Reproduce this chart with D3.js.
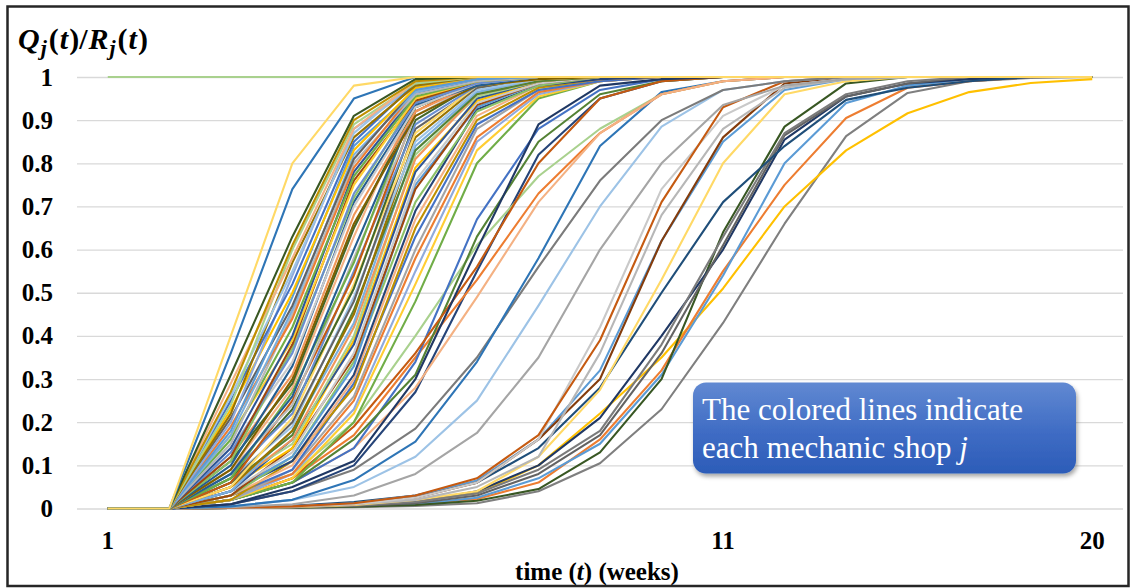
<!DOCTYPE html>
<html>
<head>
<meta charset="utf-8">
<script src="https://cdn.jsdelivr.net/npm/d3@7"></script>
<style>
  body { margin: 0; background: #fff; }
  svg { display: block; }
</style>
</head>
<body>
<svg id="chart" width="1135" height="588"></svg>
<script>
// Weekly periods on the category axis and the labels printed under it
const periods = [1, 2, 3, 4, 5, 6, 7, 8, 9, 10, 11, 12, 13, 14, 15, 16, 17];
const labelPeriods = [1, 11, 17];
const labelTexts = ["1", "11", "20"];

// Vertical axis ticks
const yTickValues = [0, 0.1, 0.2, 0.3, 0.4, 0.5, 0.6, 0.7, 0.8, 0.9, 1];
const yTickLabels = ["0", "0.1", "0.2", "0.3", "0.4", "0.5", "0.6", "0.7", "0.8", "0.9", "1"];

// Q_j(t)/R_j(t) for each mechanic shop j, one value per period
const shopRatios = [
  [1,1,1,1,1,1,1,1,1,1,1,1,1,1,1,1,1],
  // slowest shops
  [0,0,0.001,0.002,0.003,0.006,0.012,0.04,0.105,0.23,0.43,0.66,0.863,0.963,0.99,0.998,1],
  [0,0,0.002,0.004,0.008,0.018,0.035,0.10,0.22,0.35,0.51,0.70,0.83,0.916,0.965,0.986,0.995],
  [0,0,0.001,0.002,0.005,0.01,0.022,0.06,0.16,0.32,0.55,0.75,0.905,0.975,0.99,1,1],
  [0,0,0.001,0.002,0.005,0.01,0.025,0.07,0.15,0.31,0.54,0.80,0.94,0.98,0.995,1,1],
  [0,0,0.001,0.002,0.004,0.008,0.018,0.045,0.13,0.30,0.64,0.885,0.985,1,1,1,1],
  [0,0,0.001,0.003,0.008,0.015,0.04,0.10,0.21,0.40,0.60,0.855,0.955,0.985,0.995,1,1],
  [0,0,0.001,0.003,0.006,0.012,0.03,0.08,0.17,0.36,0.61,0.865,0.955,0.985,1,1,1],
  [0,0,0.001,0.003,0.007,0.015,0.035,0.09,0.18,0.38,0.63,0.87,0.96,0.99,1,1,1],
  [0,0,0.002,0.006,0.015,0.03,0.06,0.14,0.28,0.50,0.71,0.84,0.947,0.975,0.99,1,1],
  [0,0,0.001,0.003,0.008,0.02,0.04,0.12,0.275,0.53,0.80,0.96,0.99,1,1,1,1],
  [0,0,0.002,0.005,0.012,0.03,0.065,0.16,0.32,0.62,0.85,0.97,0.995,1,1,1,1],
  [0,0,0.001,0.004,0.01,0.025,0.06,0.16,0.30,0.62,0.86,0.985,1,1,1,1,1],
  [0,0,0.001,0.004,0.01,0.02,0.05,0.12,0.36,0.68,0.88,0.975,0.995,1,1,1,1],
  [0,0,0.002,0.005,0.01,0.025,0.06,0.16,0.42,0.74,0.91,0.98,0.995,1,1,1,1],
  [0,0,0.002,0.005,0.012,0.03,0.07,0.17,0.39,0.71,0.93,0.99,1,1,1,1,1],
  // intermediate shops
  [0,0,0.003,0.01,0.03,0.08,0.175,0.35,0.60,0.80,0.935,0.98,0.995,1,1,1,1],
  [0,0,0.005,0.02,0.05,0.12,0.25,0.47,0.70,0.885,0.97,0.99,1,1,1,1,1],
  [0,0,0.01,0.04,0.09,0.185,0.35,0.56,0.76,0.90,0.97,0.99,1,1,1,1,1],
  [0,0,0.005,0.02,0.066,0.155,0.34,0.58,0.84,0.965,0.99,1,1,1,1,1,1],
  [0,0,0.01,0.04,0.10,0.27,0.55,0.82,0.95,0.99,1,1,1,1,1,1,1],
  [0,0,0.03,0.08,0.20,0.40,0.61,0.77,0.88,0.96,0.99,1,1,1,1,1,1],
  [0,0,0.02,0.07,0.17,0.35,0.53,0.73,0.87,0.96,0.99,1,1,1,1,1,1],
  [0,0,0.02,0.06,0.14,0.28,0.49,0.71,0.87,0.96,0.99,1,1,1,1,1,1],
  [0,0,0.02,0.06,0.14,0.34,0.67,0.88,0.97,0.995,1,1,1,1,1,1,1],
  [0,0,0.02,0.06,0.16,0.31,0.63,0.85,0.96,0.99,1,1,1,1,1,1,1],
  [0,0,0.02,0.07,0.19,0.36,0.56,0.80,0.95,0.99,1,1,1,1,1,1,1],
  [0,0,0.01,0.05,0.11,0.30,0.60,0.89,0.98,0.995,1,1,1,1,1,1,1],
  // second wave of the main group
  [0,0,0.02,0.06,0.20,0.48,0.80,0.95,0.99,1,1,1,1,1,1,1,1],
  [0,0,0.02,0.07,0.22,0.52,0.83,0.955,0.99,1,1,1,1,1,1,1,1],
  [0,0,0.02,0.08,0.23,0.55,0.85,0.96,0.99,1,1,1,1,1,1,1,1],
  [0,0,0.03,0.08,0.25,0.58,0.86,0.965,0.99,1,1,1,1,1,1,1,1],
  [0,0,0.02,0.09,0.26,0.60,0.88,0.97,0.995,1,1,1,1,1,1,1,1],
  [0,0,0.03,0.09,0.29,0.63,0.89,0.97,0.99,1,1,1,1,1,1,1,1],
  [0,0,0.02,0.11,0.28,0.65,0.90,0.975,0.995,1,1,1,1,1,1,1,1],
  [0,0,0.03,0.10,0.30,0.67,0.91,0.98,0.995,1,1,1,1,1,1,1,1],
  [0,0,0.04,0.11,0.31,0.69,0.925,0.98,0.995,1,1,1,1,1,1,1,1],
  [0,0,0.03,0.12,0.34,0.71,0.92,0.98,1,1,1,1,1,1,1,1,1],
  [0,0,0.04,0.12,0.33,0.75,0.93,0.985,1,1,1,1,1,1,1,1,1],
  [0,0,0.03,0.14,0.35,0.74,0.935,0.985,1,1,1,1,1,1,1,1,1],
  [0,0,0.04,0.13,0.36,0.76,0.94,0.985,1,1,1,1,1,1,1,1,1],
  [0,0,0.05,0.14,0.39,0.79,0.945,0.99,1,1,1,1,1,1,1,1,1],
  [0,0,0.04,0.16,0.38,0.78,0.95,0.99,1,1,1,1,1,1,1,1,1],
  [0,0,0.06,0.15,0.40,0.82,0.955,0.99,1,1,1,1,1,1,1,1,1],
  [0,0,0.05,0.16,0.42,0.81,0.96,0.99,1,1,1,1,1,1,1,1,1],
  [0,0,0.04,0.18,0.43,0.84,0.965,0.995,1,1,1,1,1,1,1,1,1],
  [0,0,0.06,0.17,0.46,0.83,0.96,0.99,1,1,1,1,1,1,1,1,1],
  [0,0,0.05,0.18,0.45,0.86,0.975,0.995,1,1,1,1,1,1,1,1,1],
  [0,0,0.07,0.19,0.49,0.85,0.97,0.995,1,1,1,1,1,1,1,1,1],
  [0,0,0.06,0.20,0.48,0.88,0.975,1,1,1,1,1,1,1,1,1,1],
  [0,0,0.05,0.21,0.52,0.87,0.98,0.995,1,1,1,1,1,1,1,1,1],
  [0,0,0.07,0.23,0.51,0.90,0.985,1,1,1,1,1,1,1,1,1,1],
  [0,0,0.08,0.22,0.55,0.89,0.98,1,1,1,1,1,1,1,1,1,1],
  [0,0,0.06,0.25,0.54,0.92,0.99,1,1,1,1,1,1,1,1,1,1],
  [0,0,0.09,0.24,0.58,0.91,0.985,1,1,1,1,1,1,1,1,1,1],
  [0,0,0.07,0.27,0.57,0.94,0.99,1,1,1,1,1,1,1,1,1,1],
  [0,0,0.08,0.26,0.60,0.93,0.99,1,1,1,1,1,1,1,1,1,1],
  [0,0,0.09,0.28,0.63,0.95,0.995,1,1,1,1,1,1,1,1,1,1],
  // first wave of the main group
  [0,0,0.11,0.29,0.65,0.93,0.985,1,1,1,1,1,1,1,1,1,1],
  [0,0,0.09,0.30,0.66,0.91,0.98,0.995,1,1,1,1,1,1,1,1,1],
  [0,0,0.12,0.31,0.68,0.92,0.985,1,1,1,1,1,1,1,1,1,1],
  [0,0,0.10,0.33,0.71,0.935,0.98,1,1,1,1,1,1,1,1,1,1],
  [0,0,0.14,0.34,0.70,0.93,0.985,1,1,1,1,1,1,1,1,1,1],
  [0,0,0.11,0.37,0.72,0.95,0.99,1,1,1,1,1,1,1,1,1,1],
  [0,0,0.13,0.36,0.73,0.94,0.985,1,1,1,1,1,1,1,1,1,1],
  [0,0,0.12,0.38,0.76,0.945,0.99,1,1,1,1,1,1,1,1,1,1],
  [0,0,0.17,0.39,0.75,0.95,0.99,1,1,1,1,1,1,1,1,1,1],
  [0,0,0.14,0.40,0.78,0.96,0.995,1,1,1,1,1,1,1,1,1,1],
  [0,0,0.16,0.42,0.77,0.955,0.99,1,1,1,1,1,1,1,1,1,1],
  [0,0,0.15,0.45,0.80,0.96,0.99,1,1,1,1,1,1,1,1,1,1],
  [0,0,0.19,0.44,0.79,0.97,0.995,1,1,1,1,1,1,1,1,1,1],
  [0,0,0.17,0.46,0.82,0.965,0.995,1,1,1,1,1,1,1,1,1,1],
  [0,0,0.21,0.47,0.81,0.975,1,1,1,1,1,1,1,1,1,1,1],
  [0,0,0.18,0.49,0.84,0.97,0.995,1,1,1,1,1,1,1,1,1,1],
  [0,0,0.23,0.50,0.83,0.975,1,1,1,1,1,1,1,1,1,1,1],
  [0,0,0.20,0.54,0.88,0.98,1,1,1,1,1,1,1,1,1,1,1],
  [0,0,0.25,0.52,0.85,0.985,1,1,1,1,1,1,1,1,1,1,1],
  [0,0,0.22,0.57,0.86,0.98,1,1,1,1,1,1,1,1,1,1,1],
  [0,0,0.26,0.55,0.87,0.99,1,1,1,1,1,1,1,1,1,1,1],
  [0,0,0.24,0.60,0.89,0.985,1,1,1,1,1,1,1,1,1,1,1],
  [0,0,0.29,0.58,0.88,0.99,1,1,1,1,1,1,1,1,1,1,1],
  [0,0,0.27,0.61,0.90,0.99,1,1,1,1,1,1,1,1,1,1,1],
  [0,0,0.31,0.63,0.91,0.995,1,1,1,1,1,1,1,1,1,1,1],
  // fastest shops
  [0,0,0.36,0.74,0.95,1,1,1,1,1,1,1,1,1,1,1,1],
  [0,0,0.40,0.80,0.98,1,1,1,1,1,1,1,1,1,1,1,1]
];

// Stroke colour of each shop's line, in the same order as shopRatios
const shopColors = [
  "#A9D18E",
  // slowest shops
  "#7F7F7F", "#FFC000", "#ED7D31", "#5B9BD5", "#385723", "#203864", "#636363",
  "#7B7B7B", "#1F4E79", "#FFD966", "#5B9BD5", "#843C0C", "#B7B7B7", "#C9C9C9", "#C55A11",
  // intermediate shops
  "#A5A5A5", "#9DC3E6", "#7B7B7B", "#2E75B6",
  "#264478", "#A9D18E", "#ED7D31", "#F4B183", "#4472C4", "#548235", "#C55A11", "#203864",
  // second wave
  "#70AD47", "#FFCD33", "#8FAADC", "#ED7D31", "#A5A5A5", "#4472C4", "#BF9000", "#F4B183",
  "#264478", "#8CC168", "#5B9BD5", "#9E480E", "#C9C9C9", "#FFC000", "#2F5597", "#A9D18E",
  "#F1975A", "#7CAFDD", "#548235", "#997300", "#9DC3E6", "#636363", "#FFD966", "#43682B",
  "#698ED0", "#C55A11", "#B7B7B7", "#70AD47", "#255E91", "#F4B183",
  // first wave
  "#43682B", "#7F6000", "#F1975A", "#255E91", "#C9C9C9", "#8CC168", "#698ED0", "#9E480E",
  "#FFCD33", "#2F5597", "#70AD47", "#B7B7B7", "#ED7D31", "#7CAFDD", "#636363", "#5B9BD5",
  "#FFC000", "#8FAADC", "#4472C4", "#997300", "#9DC3E6", "#A9D18E", "#F4B183", "#BF9000",
  "#385723",
  // fastest shops
  "#2E75B6", "#FFD966"
];

const svg = d3.select("#chart");
const plot = { left: 77, right: 1123, top: 77, bottom: 508.5 };

const x = d3.scaleBand().domain(periods).range([plot.left, plot.right]);
const xc = p => x(p) + x.bandwidth() / 2;
const y = d3.scaleLinear().domain([0, 1]).range([plot.bottom, plot.top]);

// Frame around the whole chart
svg.append("rect")
  .attr("x", 7.5).attr("y", 6.5)
  .attr("width", 1121).attr("height", 579.5)
  .attr("fill", "#fff")
  .attr("stroke", "#262626").attr("stroke-width", 2.5);

// Horizontal gridlines and value labels
const yAxis = svg.append("g")
  .attr("transform", `translate(${plot.left},0)`)
  .call(d3.axisLeft(y)
    .tickValues(yTickValues)
    .tickFormat((d, i) => yTickLabels[i])
    .tickSize(-(plot.right - plot.left))
    .tickPadding(24));
yAxis.select(".domain").remove();
yAxis.selectAll(".tick line").attr("stroke", "#d9d9d9").attr("stroke-width", 1.3);
yAxis.selectAll(".tick text")
  .attr("fill", "#000")
  .style("font-family", "'Liberation Serif', 'Times New Roman', serif")
  .style("font-weight", "bold")
  .style("font-size", "25px");

// Period labels
const xAxis = svg.append("g")
  .attr("transform", `translate(0,${plot.bottom})`)
  .call(d3.axisBottom(x)
    .tickValues(labelPeriods)
    .tickFormat((d, i) => labelTexts[i])
    .tickSize(0)
    .tickPadding(23));
xAxis.select(".domain").remove();
xAxis.selectAll(".tick text")
  .attr("fill", "#000")
  .style("font-family", "'Liberation Serif', 'Times New Roman', serif")
  .style("font-weight", "bold")
  .style("font-size", "25px");

// One line per mechanic shop
const line = d3.line()
  .x((d, i) => xc(periods[i]))
  .y(d => y(d));

svg.append("g")
  .attr("fill", "none")
  .attr("stroke-width", 2.1)
  .attr("stroke-linejoin", "round")
  .selectAll("path")
  .data(shopRatios)
  .join("path")
  .attr("stroke", (d, i) => shopColors[i % shopColors.length])
  .attr("d", line);

// Axis titles
const title = svg.append("text")
  .attr("x", 18).attr("y", 49)
  .attr("fill", "#000")
  .style("font-family", "'Liberation Serif', 'Times New Roman', serif")
  .style("font-weight", "bold")
  .style("font-size", "30px");
title.append("tspan").style("font-style", "italic").text("Q");
title.append("tspan").style("font-style", "italic").style("font-size", "22px").attr("dy", 6).attr("dx", 1).text("j");
title.append("tspan").attr("dy", -6).attr("dx", 2).text("(");
title.append("tspan").style("font-style", "italic").attr("dx", 1).text("t");
title.append("tspan").attr("dx", 1).text(")/");
title.append("tspan").style("font-style", "italic").attr("dx", 1).text("R");
title.append("tspan").style("font-style", "italic").style("font-size", "22px").attr("dy", 6).attr("dx", 1).text("j");
title.append("tspan").attr("dy", -6).attr("dx", 2).text("(");
title.append("tspan").style("font-style", "italic").attr("dx", 1).text("t");
title.append("tspan").attr("dx", 1).text(")");

const xTitle = svg.append("text")
  .attr("x", 597).attr("y", 580)
  .attr("text-anchor", "middle")
  .attr("fill", "#000")
  .style("font-family", "'Liberation Serif', 'Times New Roman', serif")
  .style("font-weight", "bold")
  .style("font-size", "25px");
xTitle.append("tspan").text("time (");
xTitle.append("tspan").style("font-style", "italic").text("t");
xTitle.append("tspan").text(") (weeks)");

// Note box
const defs = svg.append("defs");
const grad = defs.append("linearGradient")
  .attr("id", "noteFill").attr("x1", 0).attr("y1", 0).attr("x2", 0).attr("y2", 1);
grad.append("stop").attr("offset", "0%").attr("stop-color", "#6189d2");
grad.append("stop").attr("offset", "55%").attr("stop-color", "#3f6cc4");
grad.append("stop").attr("offset", "100%").attr("stop-color", "#2c5cb8");
const shadow = defs.append("filter").attr("id", "noteShadow")
  .attr("x", "-10%").attr("y", "-20%").attr("width", "120%").attr("height", "150%");
shadow.append("feDropShadow")
  .attr("dx", 1.5).attr("dy", 3).attr("stdDeviation", 2.2)
  .attr("flood-color", "#000").attr("flood-opacity", 0.35);

svg.append("rect")
  .attr("x", 693).attr("y", 382.5)
  .attr("width", 383).attr("height", 91)
  .attr("rx", 13).attr("ry", 13)
  .attr("fill", "url(#noteFill)")
  .attr("filter", "url(#noteShadow)");

const note = svg.append("text")
  .attr("fill", "#fff")
  .style("font-family", "'Liberation Serif', 'Times New Roman', serif")
  .style("font-size", "31px");
note.append("tspan").attr("x", 702).attr("y", 420).text("The colored lines indicate");
const note2 = note.append("tspan").attr("x", 702).attr("y", 458);
note2.append("tspan").text("each mechanic shop ");
note2.append("tspan").style("font-style", "italic").text("j");
</script>
</body>
</html>
